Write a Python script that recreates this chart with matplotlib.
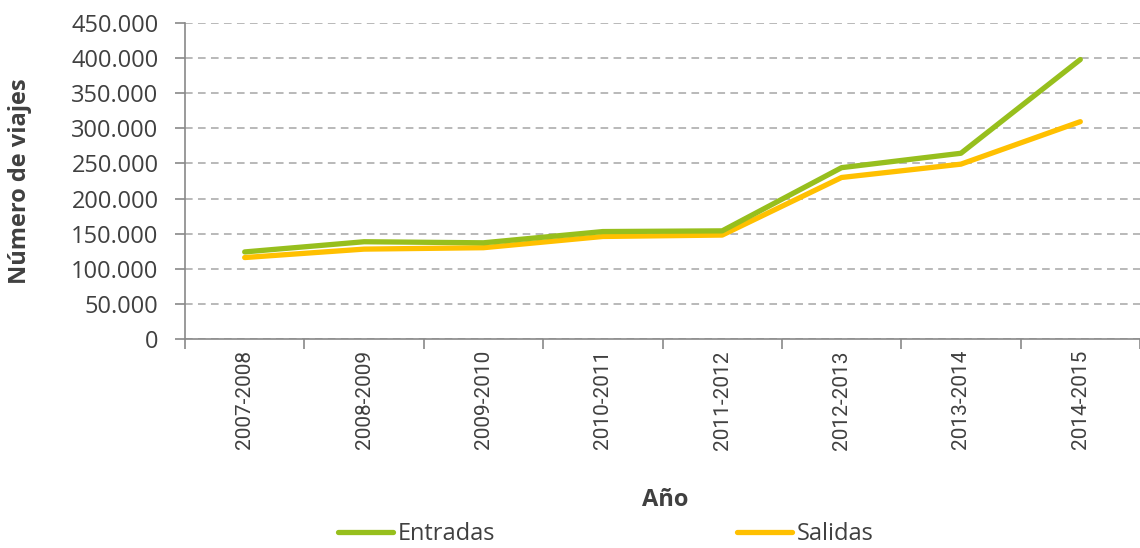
import numpy as np
import matplotlib.pyplot as plt
from matplotlib.ticker import FuncFormatter, FixedLocator

plt.rcParams['font.family'] = ['Open Sans', 'DejaVu Sans']

periodos = ['2007-2008', '2008-2009', '2009-2010', '2010-2011',
            '2011-2012', '2012-2013', '2013-2014', '2014-2015']
entradas = [124000, 138500, 137000, 153000, 154000, 244000, 264500, 398000]
salidas = [116000, 128000, 130000, 146000, 148000, 230000, 249000, 309500]

c_text = '#404040'
c_axis = '#898989'

fig = plt.figure(figsize=(11.4, 5.48), dpi=100)
ax = fig.add_axes([185 / 1140, 1 - 339 / 548, (1140 - 185) / 1140, (339 - 23) / 548])

x = np.arange(len(periodos))
ax.plot(x, entradas, color='#97BF1D', lw=3.8, solid_capstyle='round', label='Entradas', zorder=3)
ax.plot(x, salidas, color='#FFC000', lw=3.8, solid_capstyle='round', label='Salidas', zorder=2)

ax.set_xlim(-0.5, len(periodos) - 0.5)
ax.set_ylim(0, 450000)
ax.set_yticks(np.arange(0, 450001, 50000))
ax.yaxis.set_major_formatter(FuncFormatter(lambda v, p: f'{int(v):,}'.replace(',', '.')))
ax.grid(axis='y', ls=(0, (5, 3.5)), color='#A6A6A6', lw=1.1)
ax.set_axisbelow(True)

# category boundaries carry the tick marks, labels sit in the middle
ax.xaxis.set_major_locator(FixedLocator(np.arange(-0.5, len(periodos), 1.0)))
ax.xaxis.set_major_formatter(FuncFormatter(lambda v, p: ''))
ax.xaxis.set_minor_locator(FixedLocator(x))
ax.set_xticks(x, periodos, minor=True, rotation=90, family=['Roboto', 'DejaVu Sans'])
ax.tick_params(axis='x', which='major', length=7, color=c_axis, width=1.2)
ax.tick_params(axis='x', which='minor', length=0, pad=8, labelsize=15, labelcolor=c_text)
ax.tick_params(axis='y', length=7, color=c_axis, width=1.2, labelsize=17, labelcolor=c_text, pad=12)

for s in ['top', 'right']:
    ax.spines[s].set_visible(False)
for s in ['left', 'bottom']:
    ax.spines[s].set_color(c_axis)
    ax.spines[s].set_linewidth(1.2)

ax.set_ylabel('Número de viajes', fontsize=17, fontweight='bold', color=c_text)
ax.yaxis.set_label_coords(-0.16, 0.5)
ax.set_xlabel('Año', fontsize=17, fontweight='bold', color=c_text)
ax.xaxis.set_label_coords(0.503, -0.47)

fig.legend(loc='center left', bbox_to_anchor=(338 / 1140, 14 / 548), ncol=2, frameon=False,
           fontsize=17, handlelength=2.35, handletextpad=0.2, columnspacing=10.2,
           borderpad=0, borderaxespad=0, labelcolor=c_text)

fig.savefig('out.png', dpi=100)
